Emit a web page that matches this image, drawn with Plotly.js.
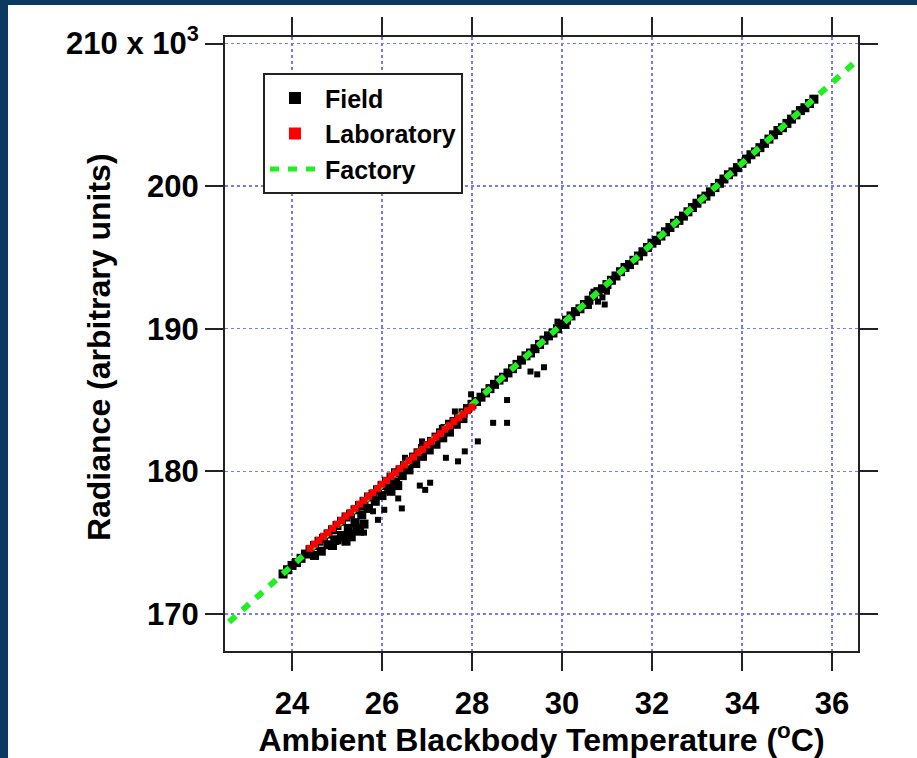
<!DOCTYPE html>
<html><head><meta charset="utf-8">
<script src="https://cdn.plot.ly/plotly-3.0.1.min.js"></script>
<style>
html,body{margin:0;padding:0;background:#0b3a60;width:917px;height:758px;overflow:hidden}
#chart{position:absolute;left:8px;top:5px;width:909px;height:753px;background:#fff}
</style></head><body><div id="chart"></div>
<script>
// Field measurements: dense band along the calibration line
const fieldBandX = [
23.8,23.9,24.0,24.1,24.2,24.3,24.4,24.5,24.6,24.7,24.8,24.9,25.0,25.1,25.2,25.3,25.4,25.5,25.6,25.7,
25.8,25.9,26.0,26.1,26.2,26.3,26.4,26.5,26.6,26.7,26.8,26.9,27.0,27.1,27.2,27.3,27.4,27.5,27.6,27.7,
27.8,27.9,28.0,28.1,28.2,28.3,28.4,28.5,28.6,28.7,28.8,28.9,29.0,29.1,29.2,29.3,29.4,29.5,29.6,29.7,
29.8,29.9,30.0,30.1,30.2,30.3,30.4,30.5,30.6,30.7,30.8,30.9,31.0,31.1,31.2,31.3,31.4,31.5,31.6,31.7,
31.8,31.9,32.0,32.1,32.2,32.3,32.4,32.5,32.6,32.7,32.8,32.9,33.0,33.1,33.2,33.3,33.4,33.5,33.6,33.7,
33.8,33.9,34.0,34.1,34.2,34.3,34.4,34.5,34.6,34.7,34.8,34.9,35.0,35.1,35.2,35.3,35.4,35.5,35.6,
24.5,24.65,24.8,24.95,25.1,25.25,25.4,25.55,25.7,25.85,26.0,26.15,26.3,26.45,26.6,26.75,26.9,27.05,27.2,27.35,27.5,27.65,27.8,
24.9,25.0,25.15,25.2,25.3,25.45,25.5,25.6,26.2,26.35
];
const fieldBandY = [
172.8,173.1,173.4,173.6,173.9,174.2,174.5,174.8,175.1,175.3,175.6,175.9,176.2,176.5,176.8,177.0,177.3,177.6,177.9,178.2,
178.4,178.7,179.0,179.3,179.6,179.9,180.1,180.4,180.7,181.0,181.3,181.6,181.8,182.1,182.4,182.7,183.0,183.3,183.5,183.8,
184.1,184.4,184.7,184.9,185.2,185.5,185.8,186.1,186.4,186.6,186.9,187.2,187.5,187.8,188.1,188.3,188.6,188.9,189.2,189.5,
189.7,190.0,190.3,190.6,190.9,191.2,191.4,191.7,192.0,192.3,192.6,192.8,193.1,193.4,193.7,194.0,194.3,194.5,194.8,195.1,
195.4,195.7,196.0,196.2,196.5,196.8,197.1,197.4,197.6,197.9,198.2,198.5,198.8,199.1,199.3,199.6,199.9,200.2,200.5,200.8,
201.0,201.3,201.6,201.9,202.2,202.4,202.7,203.0,203.3,203.6,203.9,204.1,204.4,204.7,205.0,205.3,205.5,205.8,206.1,
174.1,174.4,174.85,175.15,175.5,176.0,176.4,176.95,177.4,177.9,178.3,178.75,179.25,179.7,180.1,180.55,181.05,181.5,181.9,182.35,182.75,183.3,183.7,
174.8,175.2,175.4,175.1,175.6,176.0,175.8,176.3,178.6,179.0
];
// Field measurements: scattered outliers
const fieldScatterX = [27.98,28.78,28.47,28.78,28.13,27.84,27.69,27.42,26.89,26.51,26.84,27.07,26.96,26.36,26.44,25.91,25.8,27.62,27.33,
29.3,29.6,29.45,29.9,30.1,25.35,25.6,26.05,
30.6,30.8,30.9,31.0,30.7,30.95];
const fieldScatterY = [185.4,185.0,183.4,183.4,182.1,181.4,180.7,180.95,182.1,180.95,179.0,179.2,178.7,178.1,177.4,176.6,177.2,184.2,183.05,
187.0,187.3,186.8,190.5,190.2,175.3,175.7,177.3,
191.6,191.9,192.2,192.6,192.6,191.7];
// Laboratory measurements
const labX = [24.4,24.5,24.6,24.7,24.8,24.9,25.0,25.1,25.2,25.3,25.4,25.5,25.6,25.7,25.8,25.9,26.0,26.1,26.2,26.3,
26.4,26.5,26.6,26.7,26.8,26.9,27.0,27.1,27.2,27.3,27.4,27.5,27.6,27.7,27.8,27.9,28.0];
const labY = [174.6,174.9,175.15,175.45,175.7,176.0,176.3,176.55,176.85,177.1,177.4,177.7,177.95,178.25,178.5,178.8,179.1,179.35,179.65,179.9,
180.2,180.45,180.75,181.0,181.3,181.55,181.85,182.1,182.4,182.65,182.95,183.2,183.5,183.75,184.0,184.25,184.5];
// Factory calibration
const factoryX = [22.6, 24, 26, 28, 30, 32, 34, 36.5];
const factoryY = [169.43, 173.38, 179.02, 184.67, 190.31, 195.96, 201.60, 208.65];

const xTicks = [24, 26, 28, 30, 32, 34, 36];
const yTicks = [170, 180, 190, 200, 210];
const yTickText = ['170', '180', '190', '200', '210 x 10<sup>3</sup>'];

const FONT = 'Liberation Sans, Arial, Helvetica, sans-serif';
const axisCommon = {
  ticks: 'outside', ticklen: 18, tickwidth: 2, tickcolor: '#222',
  showline: true, linewidth: 2, linecolor: '#222', mirror: 'ticks',
  showgrid: true, gridcolor: '#7878ff', gridwidth: 1.5, griddash: '3px,3px',
  zeroline: false,
  tickfont: {family: FONT, size: 31, color: '#000', weight: 'bold'}
};

const traces = [
  {x: fieldBandX, y: fieldBandY, type: 'scatter', mode: 'markers', name: 'Field', legendrank: 1,
   legendgroup: 'field', marker: {symbol: 'square', size: 9, color: '#000', line: {width: 0}}},
  {x: fieldScatterX, y: fieldScatterY, type: 'scatter', mode: 'markers', name: 'Field', showlegend: false,
   legendgroup: 'field', marker: {symbol: 'square', size: 6, color: '#000', line: {width: 0}}},
  {x: factoryX, y: factoryY, type: 'scatter', mode: 'lines', name: 'Factory', legendrank: 3,
   line: {color: '#22ee22', width: 6, dash: '9px,9px'}},
  {x: labX, y: labY, type: 'scatter', mode: 'markers', name: 'Laboratory', legendrank: 2,
   marker: {symbol: 'square', size: 7, color: '#ff0000', line: {width: 0}}}
];

const layout = {
  width: 909, height: 753,
  paper_bgcolor: '#ffffff', plot_bgcolor: '#ffffff',
  margin: {l: 217, r: 59, t: 32, b: 107},
  font: {family: FONT, color: '#000'},
  xaxis: Object.assign({}, axisCommon, {
    range: [22.51, 36.58], tickvals: xTicks, ticktext: xTicks.map(String),
    ticklabelstandoff: 6,
    title: {text: 'Ambient Blackbody Temperature (<sup>o</sup>C)', standoff: 10,
            font: {family: FONT, size: 32, color: '#000', weight: 'bold'}}
  }),
  yaxis: Object.assign({}, axisCommon, {
    range: [167.40, 210.46], tickvals: yTicks, ticktext: yTickText
  }),
  annotations: [{
    text: 'Radiance (arbitrary units)', textangle: -90, showarrow: false,
    xref: 'paper', yref: 'paper', x: -0.199, y: 0.495, xanchor: 'center', yanchor: 'middle',
    font: {family: FONT, size: 32, color: '#000', weight: 'bold'}
  }],
  legend: {x: 0.06, y: 0.941, xanchor: 'left', yanchor: 'top',
           bgcolor: '#fff', bordercolor: '#222', borderwidth: 2,
           font: {family: FONT, size: 25, color: '#000', weight: 'bold'},
           traceorder: 'normal', itemsizing: 'constant', itemwidth: 50, tracegroupgap: 0},
  showlegend: true
};

Plotly.newPlot('chart', traces, layout, {displayModeBar: false, staticPlot: true});
</script></body></html>
